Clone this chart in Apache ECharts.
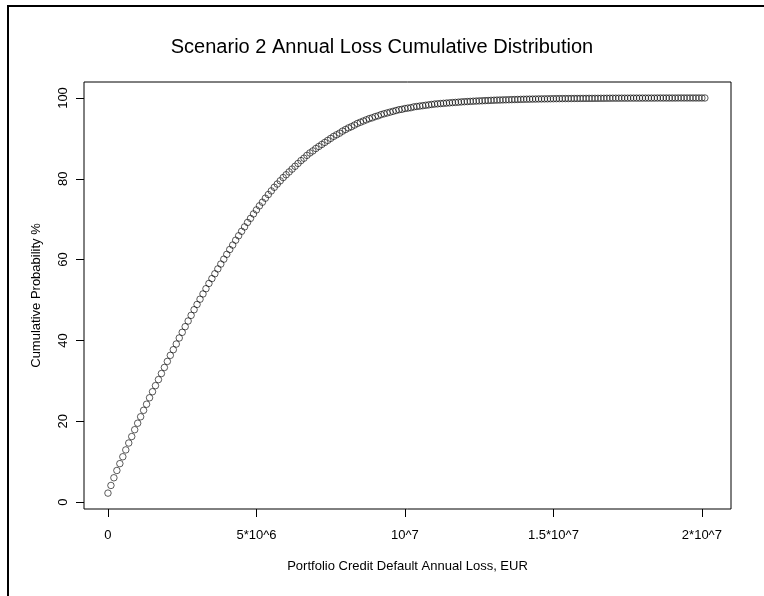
<!DOCTYPE html>
<html>
<head>
<meta charset="utf-8">
<title>Scenario 2 Annual Loss Cumulative Distribution</title>
<script src="https://cdn.jsdelivr.net/npm/echarts@6/dist/echarts.min.js"></script>
<style>
  html, body { margin: 0; padding: 0; background: #fff; }
  #chart { width: 764px; height: 596px; }
</style>
</head>
<body>
<div id="chart"></div>
<script>
// loss grid: one point every 100 000 EUR, starting at 0
var lossStep = 100000;

// cumulative probability (%), one value per loss step
var cumulativePct = [
  2.2, 4.1, 6.0, 7.8, 9.5, 11.2, 12.9, 14.6, 16.2, 17.9,
  19.5, 21.1, 22.7, 24.2, 25.8, 27.3, 28.8, 30.3, 31.8, 33.3,
  34.8, 36.3, 37.7, 39.1, 40.6, 42.0, 43.4, 44.8, 46.2, 47.6,
  48.9, 50.2, 51.5, 52.8, 54.1, 55.3, 56.5, 57.7, 58.9, 60.1,
  61.3, 62.5, 63.6, 64.8, 65.9, 67.0, 68.1, 69.2, 70.2, 71.3,
  72.3, 73.3, 74.2, 75.2, 76.1, 77.0, 77.9, 78.7, 79.5, 80.3,
  81.0, 81.7, 82.4, 83.1, 83.8, 84.5, 85.1, 85.8, 86.4, 86.9,
  87.5, 88.0, 88.5, 89.0, 89.5, 90.0, 90.5, 90.9, 91.3, 91.8,
  92.2, 92.6, 92.9, 93.3, 93.7, 94.0, 94.3, 94.6, 94.9, 95.1,
  95.4, 95.6, 95.9, 96.1, 96.3, 96.5, 96.7, 96.9, 97.1, 97.2,
  97.4, 97.5, 97.6, 97.8, 97.9, 98.0, 98.1, 98.2, 98.3, 98.4,
  98.5, 98.56, 98.62, 98.68, 98.74, 98.80, 98.86, 98.91, 98.96, 99.03,
  99.08, 99.12, 99.16, 99.20, 99.24, 99.28, 99.31, 99.35, 99.38, 99.42,
  99.45, 99.48, 99.50, 99.53, 99.55, 99.57, 99.60, 99.62, 99.64, 99.66,
  99.68, 99.70, 99.71, 99.73, 99.74, 99.76, 99.77, 99.78, 99.79, 99.81,
  99.82, 99.83, 99.84, 99.85, 99.86, 99.86, 99.87, 99.88, 99.88, 99.89,
  99.90, 99.90, 99.91, 99.91, 99.92, 99.92, 99.93, 99.93, 99.94, 99.94,
  99.95, 99.95, 99.95, 99.96, 99.96, 99.96, 99.97, 99.97, 99.97, 99.97,
  99.98, 99.98, 99.98, 99.98, 99.98, 99.99, 99.99, 99.99, 99.99, 99.99,
  99.99, 99.99, 100, 100, 100, 100, 100, 100, 100, 100,
  100, 100
];

// axis ticks and their labels
var xTickValues = [0, 5000000, 10000000, 15000000, 20000000];
var xTickLabels = ["0", "5*10^6", "10^7", "1.5*10^7", "2*10^7"];
var yTickValues = [0, 20, 40, 60, 80, 100];

var points = [];
for (var i = 0; i < cumulativePct.length; i++) {
  points.push([i * lossStep, cumulativePct[i]]);
}

var font = "Liberation Sans, Arial, sans-serif";

var option = {
  animation: false,
  backgroundColor: "#fff",
  title: {
    text: "Scenario 2 Annual Loss Cumulative Distribution",
    left: "center",
    top: 32,
    textStyle: {
      fontFamily: font,
      fontSize: 20,
      fontWeight: "normal",
      color: "#000"
    }
  },
  graphic: [{
    type: "rect",
    shape: { x: 8, y: 6, width: 900, height: 800 },
    style: { fill: "none", stroke: "#000", lineWidth: 2 },
    silent: true
  }],
  grid: {
    left: 84,
    top: 82,
    right: 33,
    bottom: 87,
    show: true,
    borderColor: "#000",
    borderWidth: 1,
    backgroundColor: "transparent"
  },
  xAxis: {
    type: "value",
    min: -807000,
    max: 20980000,
    name: "Portfolio Credit Default Annual Loss, EUR",
    nameLocation: "middle",
    nameGap: 51,
    nameMoveOverlap: false,
    nameTextStyle: { fontFamily: font, fontSize: 13, color: "#000" },
    axisLine: { show: false, onZero: false },
    splitLine: { show: false },
    axisTick: {
      show: true,
      inside: false,
      length: 8,
      customValues: xTickValues,
      lineStyle: { color: "#000", width: 1 }
    },
    axisLabel: {
      customValues: xTickValues,
      margin: 20,
      fontFamily: font,
      fontSize: 13,
      color: "#000",
      formatter: function (v) {
        var idx = xTickValues.indexOf(v);
        return idx >= 0 ? xTickLabels[idx] : "";
      }
    }
  },
  yAxis: {
    type: "value",
    min: -1.73,
    max: 103.96,
    name: "Cumulative Probability %",
    nameLocation: "middle",
    nameRotate: 90,
    nameGap: 41,
    nameMoveOverlap: false,
    nameTextStyle: { fontFamily: font, fontSize: 13, color: "#000" },
    axisLine: { show: false, onZero: false },
    splitLine: { show: false },
    axisTick: {
      show: true,
      inside: false,
      length: 8,
      customValues: yTickValues,
      lineStyle: { color: "#000", width: 1 }
    },
    axisLabel: {
      customValues: yTickValues,
      rotate: 90,
      align: "center",
      verticalAlign: "bottom",
      margin: 14,
      fontFamily: font,
      fontSize: 13,
      color: "#000"
    }
  },
  series: [{
    type: "scatter",
    data: points,
    symbol: "circle",
    symbolSize: 6.5,
    itemStyle: {
      color: "rgba(0,0,0,0)",
      borderColor: "#000",
      borderWidth: 0.8
    },
    emphasis: { disabled: true }
  }]
};

var myChart = echarts.init(document.getElementById("chart"));
myChart.setOption(option);
</script>
</body>
</html>
